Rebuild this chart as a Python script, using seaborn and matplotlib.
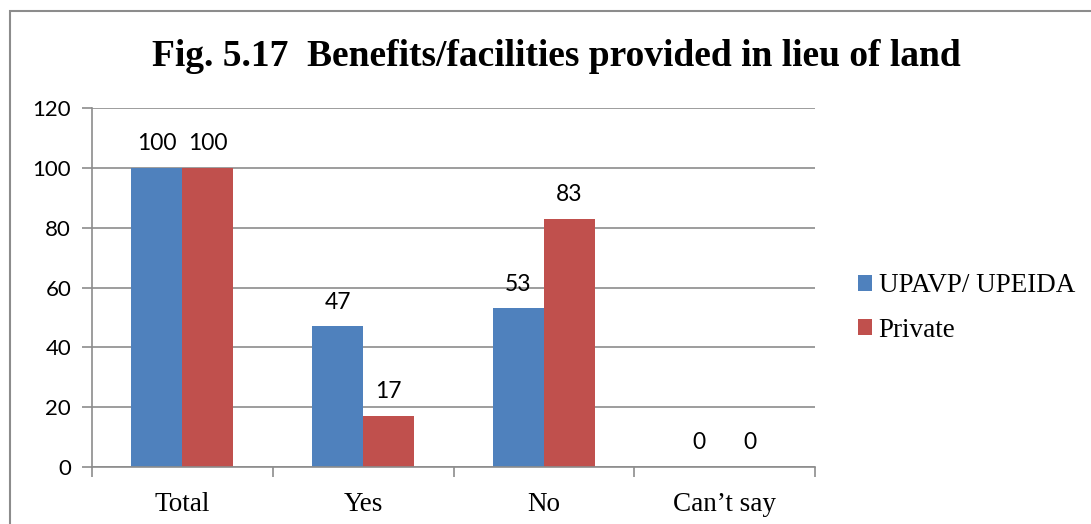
import matplotlib
matplotlib.use("Agg")
import matplotlib.pyplot as plt
import seaborn as sns
import pandas as pd
from matplotlib.patches import Rectangle

categories = ["Total", "Yes", "No", "Can\u2019t say"]
upavp = [100, 47, 53, 0]
private = [100, 17, 83, 0]
series_names = ["UPAVP/ UPEIDA", "Private"]
colors = ["#4F81BD", "#C0504D"]

df = pd.DataFrame({
    "category": categories * 2,
    "value": upavp + private,
    "series": [series_names[0]] * len(categories) + [series_names[1]] * len(categories),
})

sns.set_theme(style="white")
plt.rcParams["font.family"] = ["Liberation Serif", "DejaVu Serif"]
plt.rcParams["text.color"] = "black"
plt.rcParams["xtick.color"] = "black"
plt.rcParams["ytick.color"] = "black"

fig = plt.figure(figsize=(10.91, 5.24), dpi=100)
ax = fig.add_axes([92/1091, 1-467/524, (815-92)/1091, (467-108)/524])

sns.barplot(data=df, x="category", y="value", hue="series", palette=colors,
            width=0.565, saturation=1, ax=ax, legend=True, edgecolor="none")

ax.set_ylim(0, 120)
ax.set_xlim(-0.5, 3.5)
ax.set_yticks(range(0, 121, 20))
ax.yaxis.grid(True, color="#8c8c8c", linewidth=1.2)
ax.set_axisbelow(True)
for s in ["top", "right"]:
    ax.spines[s].set_visible(False)
ax.spines["left"].set_color("#8c8c8c")
ax.spines["bottom"].set_color("#8c8c8c")
ax.spines["left"].set_linewidth(1.2)
ax.spines["bottom"].set_linewidth(1.2)
ax.set_xlabel("")
ax.set_ylabel("")

ax.tick_params(axis="y", which="both", left=True, length=7, color="#8c8c8c",
               labelcolor="black", width=1.2, pad=8)
ax.tick_params(axis="x", which="major", bottom=False, pad=12, labelcolor="black")
for lbl in ax.get_yticklabels():
    lbl.set_fontfamily("Lato")
    lbl.set_fontsize(16)
for lbl in ax.get_xticklabels():
    lbl.set_fontfamily("Liberation Serif")
    lbl.set_fontsize(19.5)
ax.set_xticks([-0.5, 0.5, 1.5, 2.5, 3.5], minor=True)
ax.tick_params(axis="x", which="minor", bottom=True, length=7, color="#8c8c8c", width=1.2)

for cont in ax.containers:
    ax.bar_label(cont, labels=[f"{v:.0f}" for v in cont.datavalues], padding=10,
                 fontsize=16.5, fontfamily="Lato", color="black")

leg = ax.legend(loc="center left", bbox_to_anchor=(1.059, 0.443), frameon=False,
                prop={"family": "Liberation Serif", "size": 19.5}, borderpad=0, borderaxespad=0,
                handlelength=0.52, handleheight=0.52, handletextpad=0.25, labelspacing=0.72)
for t in leg.get_texts():
    t.set_color("black")

fig.text(556/1091, 1-56/524, "Fig. 5.17  Benefits/facilities provided in lieu of land",
         ha="center", va="center", fontsize=27, fontweight="bold",
         fontfamily="Liberation Serif", color="black")

fig.patches.append(Rectangle((10/1091, -0.1), 1.2, 1-11/524+0.1, transform=fig.transFigure,
                             fill=False, edgecolor="#8c8c8c", linewidth=1.5))

fig.savefig("out.png", dpi=100)
